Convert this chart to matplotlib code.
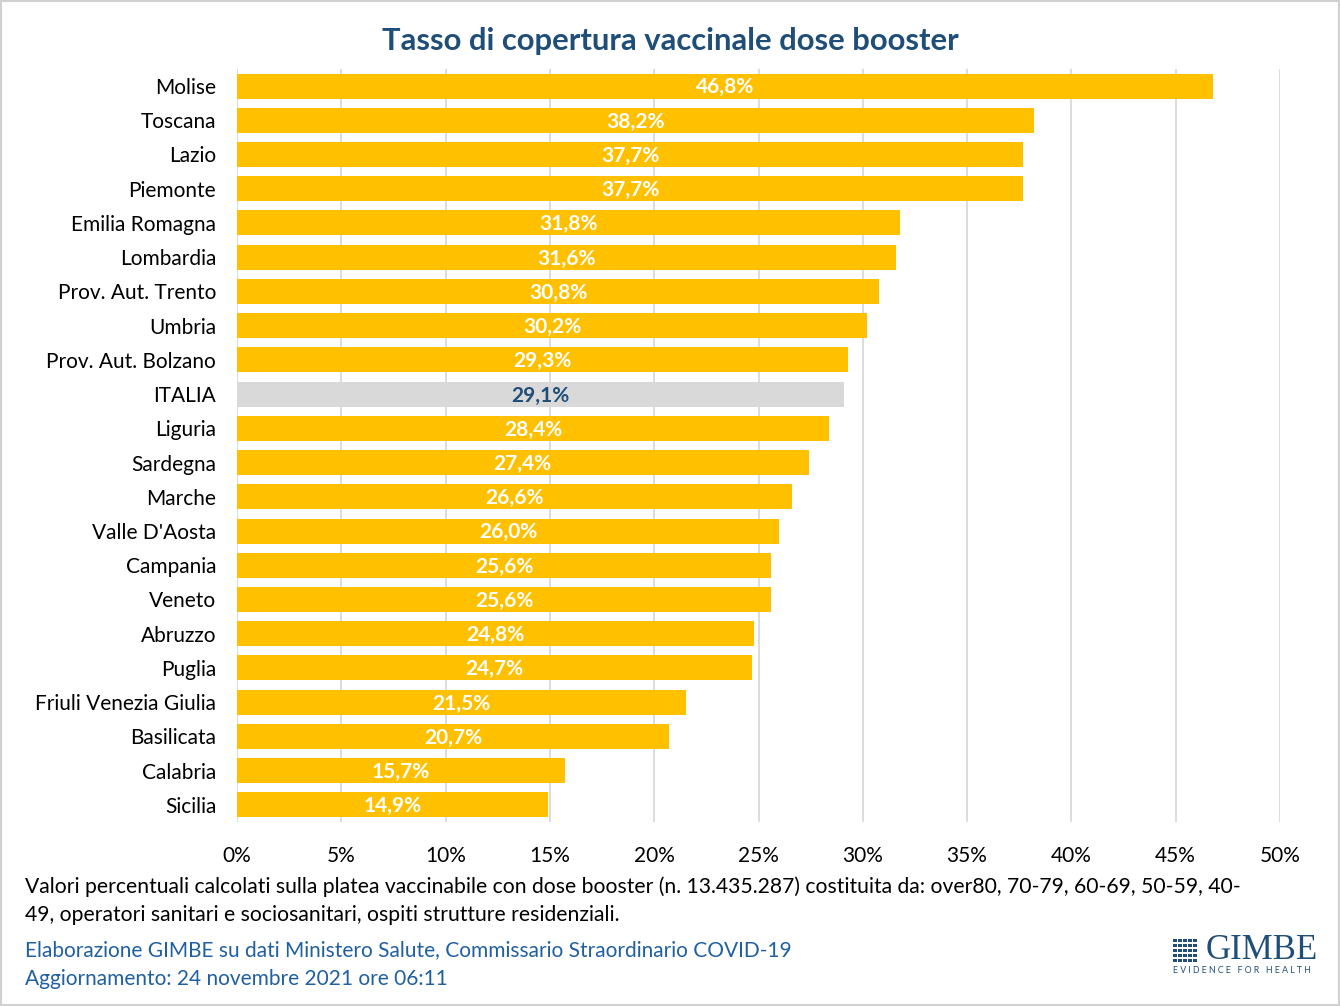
import matplotlib
matplotlib.use("Agg")
import matplotlib.pyplot as plt
from matplotlib.patches import Rectangle

regions = ["Molise", "Toscana", "Lazio", "Piemonte", "Emilia Romagna", "Lombardia",
           "Prov. Aut. Trento", "Umbria", "Prov. Aut. Bolzano", "ITALIA", "Liguria",
           "Sardegna", "Marche", "Valle D'Aosta", "Campania", "Veneto", "Abruzzo",
           "Puglia", "Friuli Venezia Giulia", "Basilicata", "Calabria", "Sicilia"]
coverage = [46.8, 38.2, 37.7, 37.7, 31.8, 31.6, 30.8, 30.2, 29.3, 29.1, 28.4,
            27.4, 26.6, 26.0, 25.6, 25.6, 24.8, 24.7, 21.5, 20.7, 15.7, 14.9]
xticks = [0, 5, 10, 15, 20, 25, 30, 35, 40, 45, 50]

blue = "#1F4E79"
srcblue = "#2060A0"
plt.rcParams['font.family'] = ['Lato', 'DejaVu Sans']

fig = plt.figure(figsize=(13.4, 10.06), dpi=100)
ax = fig.add_axes([0.1769, 0.1829, 0.9552 - 0.1769, 0.9315 - 0.1829])

ypos = list(range(len(regions)))
colors = ["#D9D9D9" if r == "ITALIA" else "#FFC000" for r in regions]
ax.barh(ypos, coverage, height=0.73, color=colors, zorder=2)

for y, v, r in zip(ypos, coverage, regions):
    ax.text(v / 2, y + 0.04, f"{v:.1f}%".replace(".", ","), ha="center", va="center",
            fontsize=15, fontweight="bold",
            color=blue if r == "ITALIA" else "white", zorder=3)

ax.set_xlim(0, 50)
ax.set_ylim(len(regions) - 0.5, -0.5)
ax.set_yticks(ypos)
ax.set_yticklabels(regions, fontsize=15)
ax.set_xticks(xticks)
ax.set_xticklabels([f"{t}%" for t in xticks], fontsize=15)
ax.tick_params(length=0)
ax.tick_params(axis="x", pad=17)
ax.tick_params(axis="y", pad=15)
ax.grid(axis="x", color="#D9D9D9", linewidth=1.3, zorder=0)
for s in ax.spines.values():
    s.set_visible(False)

fig.text(0.5, 0.959, "Tasso di copertura vaccinale dose booster", ha="center",
         va="center", fontsize=22.3, fontweight="bold", color=blue)

fig.text(0.019, 0.1183,
         "Valori percentuali calcolati sulla platea vaccinabile con dose booster (n. 13.435.287) costituita da: over80, 70-79, 60-69, 50-59, 40-",
         ha="left", va="center", fontsize=15.2, color="black")
fig.text(0.019, 0.0905, "49, operatori sanitari e sociosanitari, ospiti strutture residenziali.",
         ha="left", va="center", fontsize=15.2, color="black")
fig.text(0.019, 0.0557, "Elaborazione GIMBE su dati Ministero Salute, Commissario Straordinario COVID-19",
         ha="left", va="center", fontsize=15, color=srcblue)
fig.text(0.019, 0.0268, "Aggiornamento: 24 novembre 2021 ore 06:11",
         ha="left", va="center", fontsize=15, color=srcblue)

# logo
fig.text(0.8995, 0.0555, "GIMBE", ha="left", va="center", fontsize=25,
         family="Liberation Serif", color=blue)
fig.text(0.8754, 0.0355, "E V I D E N C E   F O R   H E A L T H", ha="left", va="center",
         fontsize=6.3, color=blue)
for i in range(5):
    for j in range(5):
        fig.patches.append(Rectangle((0.8754 + i * 0.00373, 0.0437 + j * 0.00497),
                                     0.0026, 0.0035, transform=fig.transFigure,
                                     color=blue, linewidth=0))

fig.patches.append(Rectangle((0.0008, 0.001), 0.9984, 0.998, transform=fig.transFigure,
                             fill=False, edgecolor="#D0D0D0", linewidth=1.5))

fig.savefig("out.png", dpi=100)
